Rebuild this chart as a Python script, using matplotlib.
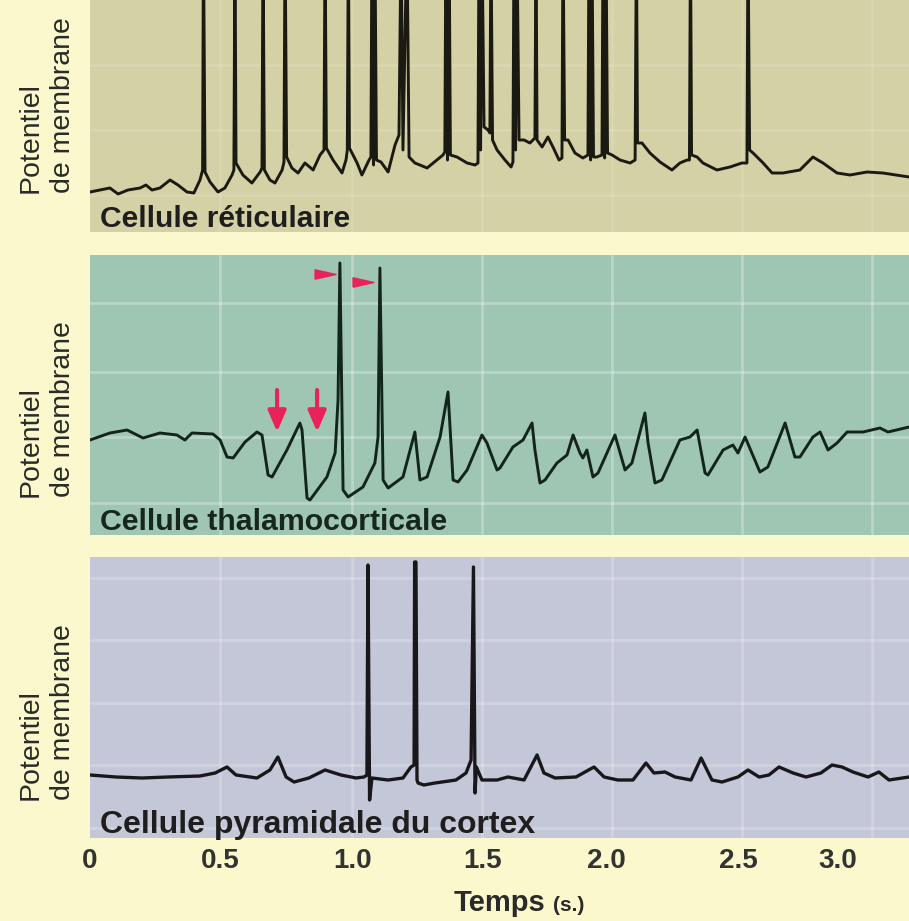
import matplotlib
matplotlib.use("Agg")
import matplotlib.pyplot as plt

plt.rcParams['font.family'] = ['Liberation Sans', 'DejaVu Sans']

# ---------------- data ----------------
# Cellule réticulaire (time in s, potential in arbitrary units; spikes go off-scale)
reticular_t = [
    0.000, 0.038, 0.075, 0.106, 0.143, 0.189, 0.211, 0.234, 0.264, 0.302, 0.332, 0.366, 0.392, 0.415,
    0.425, 0.428, 0.434, 0.453, 0.483, 0.509, 0.536,
    0.543, 0.547, 0.551, 0.577, 0.611, 0.642,
    0.649, 0.653, 0.658, 0.679, 0.698, 0.725,
    0.732, 0.736, 0.742, 0.762, 0.785, 0.811, 0.842, 0.868,
    0.883, 0.887, 0.892, 0.917, 0.951, 0.966,
    0.971, 0.975, 0.979, 1.008, 1.026, 1.053,
    1.060, 1.064, 1.070, 1.075, 1.081, 1.098, 1.125, 1.151, 1.166,
    1.174, 1.181, 1.196, 1.204, 1.226, 1.245, 1.272, 1.309, 1.332,
    1.339, 1.343, 1.349, 1.355, 1.360, 1.385, 1.423, 1.453,
    1.464, 1.468, 1.474, 1.479, 1.487, 1.502, 1.509, 1.513, 1.519,
    1.536, 1.566, 1.589, 1.596, 1.600, 1.606, 1.611, 1.619,
    1.638, 1.660, 1.679, 1.683, 1.687, 1.706, 1.728, 1.747, 1.770,
    1.781, 1.785, 1.791, 1.804, 1.830, 1.860,
    1.879, 1.883, 1.889, 1.894, 1.900, 1.913,
    1.932, 1.936, 1.942, 1.947, 1.953, 1.970, 2.000, 2.038,
    2.057, 2.062, 2.066, 2.083, 2.113, 2.151, 2.196, 2.226, 2.253,
    2.262, 2.266, 2.270, 2.291, 2.313, 2.366, 2.415, 2.460,
    2.479, 2.483, 2.489, 2.502, 2.540, 2.574, 2.615, 2.679, 2.728, 2.766, 2.819, 2.868, 2.932, 2.992, 3.091,
]
reticular_v = [
    40, 42, 44, 38, 42, 44, 47, 42, 44, 52, 47, 40, 39, 52,
    62, 300, 60, 50, 40, 44, 57,
    62, 300, 69, 57, 49, 60,
    64, 300, 62, 52, 49, 62,
    70, 300, 75, 64, 59, 69, 62, 77,
    82, 300, 84, 72, 59, 72,
    82, 300, 84, 69, 57, 72,
    75, 300, 67, 300, 72, 70, 60, 87, 97,
    300, 82, 300, 75, 69, 67, 64, 72, 77,
    80, 300, 72, 300, 77, 75, 69, 67,
    69, 300, 82, 300, 105, 102, 99, 300, 92,
    82, 72, 65, 70, 300, 82, 300, 92,
    92, 89, 94, 300, 92, 85, 95, 85, 72,
    74, 300, 92, 92, 79, 74,
    77, 300, 72, 300, 75, 75,
    77, 300, 74, 300, 79, 77, 72, 69,
    72, 300, 89, 89, 79, 70, 62, 69, 72,
    72, 300, 77, 75, 69, 62, 65, 69,
    69, 300, 82, 79, 69, 59, 59, 62, 75, 69, 59, 57, 60, 59, 55,
]

# Cellule thalamocorticale
thalamo_t = [
    0.000, 0.075, 0.140, 0.200, 0.264, 0.328, 0.358, 0.385, 0.464, 0.491,
    0.517, 0.540, 0.585, 0.630, 0.649, 0.672, 0.687, 0.743, 0.792, 0.800,
    0.819, 0.830, 0.894, 0.925, 0.936, 0.943, 0.955, 0.974, 1.030, 1.075,
    1.087, 1.094, 1.106, 1.125, 1.181, 1.226, 1.245, 1.272, 1.321, 1.351,
    1.370, 1.389, 1.423, 1.479, 1.498, 1.536, 1.547, 1.596, 1.634, 1.668,
    1.679, 1.698, 1.717, 1.762, 1.800, 1.823, 1.849, 1.860, 1.875, 1.898,
    1.917, 1.981, 2.019, 2.045, 2.094, 2.106, 2.132, 2.158, 2.226, 2.264,
    2.291, 2.321, 2.332, 2.389, 2.426, 2.445, 2.472, 2.528, 2.558, 2.623,
    2.660, 2.679, 2.728, 2.755, 2.785, 2.819, 2.857, 2.917, 2.981, 3.011,
    3.091,
]
thalamo_v = [
    95, 102, 105, 97, 102, 100, 95, 102, 101, 95,
    78, 77, 93, 103, 100, 60, 58, 85, 112, 105,
    37, 35, 58, 82, 135, 272, 45, 38, 48, 72,
    98, 267, 55, 47, 58, 103, 55, 58, 98, 143,
    55, 53, 65, 100, 92, 65, 67, 88, 95, 112,
    85, 52, 55, 72, 80, 100, 82, 77, 85, 58,
    62, 100, 65, 72, 122, 92, 52, 55, 95, 98,
    105, 62, 60, 85, 90, 82, 98, 63, 68, 112,
    78, 78, 98, 103, 85, 92, 103, 103, 107, 103,
    108,
]
thalamo_arrows_t = [0.706, 0.857]          # red downward arrows
thalamo_arrow_from, thalamo_arrow_to = 145, 103
thalamo_flags_t = [0.887, 1.030]           # red right-pointing markers
thalamo_flags_v = [261, 253]

# Cellule pyramidale du cortex
pyramid_t = [
    0.000, 0.098, 0.196, 0.294, 0.415, 0.472, 0.517, 0.551, 0.630, 0.679,
    0.709, 0.740, 0.770, 0.826, 0.887, 0.947, 1.004, 1.034, 1.045, 1.049,
    1.055, 1.064, 1.125, 1.181, 1.211, 1.223, 1.225, 1.230, 1.234, 1.238,
    1.260, 1.302, 1.381, 1.419, 1.438, 1.447, 1.453, 1.458, 1.479, 1.536,
    1.577, 1.638, 1.687, 1.713, 1.755, 1.834, 1.902, 1.940, 1.992, 2.049,
    2.098, 2.128, 2.170, 2.208, 2.268, 2.306, 2.347, 2.385, 2.445, 2.483,
    2.525, 2.562, 2.600, 2.653, 2.702, 2.758, 2.800, 2.838, 2.879, 2.936,
    2.977, 3.015, 3.091,
]
pyramid_v = [
    63, 61, 60, 61, 62, 65, 71, 63, 60, 68,
    81, 61, 56, 60, 68, 63, 60, 61, 63, 273,
    38, 60, 58, 60, 71, 73, 276, 276, 58, 55,
    53, 55, 58, 65, 78, 271, 45, 71, 58, 58,
    61, 58, 83, 65, 60, 61, 71, 61, 58, 58,
    75, 65, 66, 61, 58, 80, 58, 56, 61, 68,
    61, 63, 71, 65, 61, 65, 73, 71, 66, 61,
    66, 58, 61,
]

tick_pos = [0.0, 0.49, 0.99, 1.48, 1.95, 2.445, 2.82]
tick_labels = ["0", "0.5", "1.0", "1.5", "2.0", "2.5", "3.0"]
grid_t = [0.49, 0.99, 1.48, 1.97, 2.46, 2.95]

panel_titles = ["Cellule réticulaire", "Cellule thalamocorticale", "Cellule pyramidale du cortex"]
ylabel_text = "Potentiel\nde membrane"

# ---------------- layout ----------------
W, H = 909, 921
fig = plt.figure(figsize=(W / 100, H / 100), dpi=100)
fig.patch.set_facecolor('#fcf8cd')

def fx(px):
    return px / W

def fy(py):
    return 1 - py / H

panels = [
    dict(top=0, bottom=232, color='#d5d1a6', t=reticular_t, v=reticular_v, lc='#1a1a12', lw=2.1,
         hgrid=[37, 102, 167], galpha=0.12, title_base=227, title_size=21.6, ylab_bottom=193),
    dict(top=255, bottom=535, color='#9ec6b3', t=thalamo_t, v=thalamo_v, lc='#13241b', lw=2.1,
         hgrid=[32, 98, 163, 232], galpha=0.28, title_base=530, title_size=21.8, ylab_bottom=497),
    dict(top=557, bottom=838, color='#c4c7d7', t=pyramid_t, v=pyramid_v, lc='#18181c', lw=2.4,
         hgrid=[10, 73, 135, 198, 260], galpha=0.22, title_base=833, title_size=23, ylab_bottom=800),
]

xmax = (W - 90) / 265.0
axes = []
for i, p in enumerate(panels):
    ax = fig.add_axes([fx(90), fy(p['bottom']), fx(W - 90), (p['bottom'] - p['top']) / H])
    ax.set_facecolor(p['color'])
    ax.set_xlim(0, xmax)
    ax.set_ylim(0, p['bottom'] - p['top'])
    for s in ax.spines.values():
        s.set_visible(False)
    ax.set_yticks([])
    ax.set_xticks([])
    for g in grid_t:
        ax.axvline(g, color='white', alpha=p['galpha'], lw=2.0, zorder=1)
    for g in p['hgrid']:
        ax.axhline(g, color='white', alpha=p['galpha'], lw=2.0, zorder=1)
    ax.plot(p['t'], p['v'], color=p['lc'], lw=p['lw'], solid_joinstyle='round', zorder=3)
    fig.text(fx(100), fy(p['title_base']), panel_titles[i], fontsize=p['title_size'], fontweight='bold',
             color='#1e1e1e' if i != 1 else '#17271e', va='baseline', ha='left')
    fig.text(fx(47), fy(p['ylab_bottom']), ylabel_text, rotation=90, fontsize=20.5,
             color='#2a2a2a', ha='center', va='bottom', multialignment='left', linespacing=1.3)
    axes.append(ax)

# red annotations in thalamocortical panel
ax2 = axes[1]
red = '#e8235a'
for t in thalamo_arrows_t:
    ax2.annotate('', xy=(t, thalamo_arrow_to), xytext=(t, thalamo_arrow_from),
                 arrowprops=dict(arrowstyle='-|>,head_width=0.3,head_length=0.7',
                                 color=red, lw=3, mutation_scale=18, shrinkA=0, shrinkB=0),
                 zorder=4)
flag = [(-1, -0.45), (1, 0), (-1, 0.45), (-1, -0.45)]
ax2.plot(thalamo_flags_t, thalamo_flags_v, linestyle='none', marker=flag, ms=15,
         color=red, zorder=4)

# x axis ticks on the bottom panel
ax3 = axes[2]
ax3.set_xticks(tick_pos, tick_labels)
ax3.tick_params(axis='x', length=0, pad=7, labelsize=20, labelcolor='#333333')
for lab in ax3.get_xticklabels():
    lab.set_fontweight('bold')

fig.text(fx(454), fy(911), "Temps", fontsize=21, fontweight='bold', color='#2a2a2a',
         ha='left', va='baseline')
fig.text(fx(553), fy(911), "(s.)", fontsize=15, fontweight='bold', color='#2a2a2a',
         ha='left', va='baseline')

fig.savefig('out.png', dpi=100, facecolor=fig.get_facecolor())
